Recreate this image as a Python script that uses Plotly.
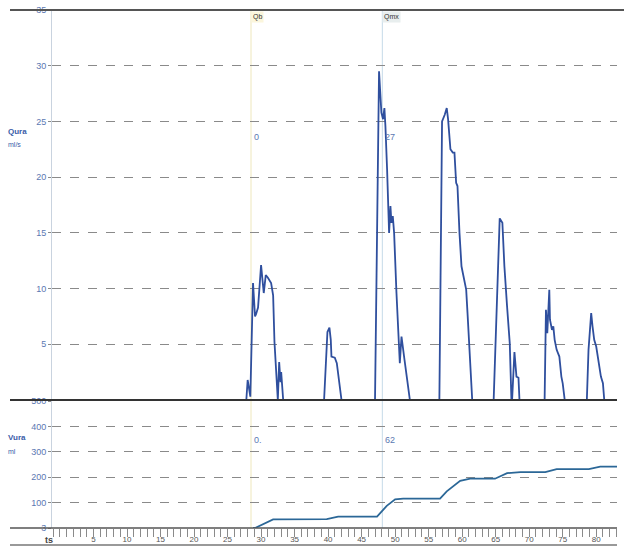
import plotly.graph_objects as go

# ---------------- data ----------------
flow_t = [0, 27.8, 28.0, 28.3, 28.4, 28.8, 29.1, 29.25, 29.55, 30.0, 30.4, 30.7, 31.0, 31.5, 31.8, 32.0, 32.4, 32.5,
          32.7, 32.9, 33.0, 33.3,
          39.4, 39.9, 40.2, 40.4, 40.5, 41.0, 41.3, 41.7, 42.0,
          47.0, 47.6, 47.95, 48.2, 48.4, 48.55, 48.8, 49.1, 49.3, 49.45, 49.65, 49.85, 50.2, 50.7, 50.95, 51.2, 51.4,
          51.8, 51.95, 52.2,
          56.6, 57.0, 57.4, 57.7, 57.9, 58.25, 58.6, 58.85, 59.1, 59.3, 59.6, 59.9, 60.1, 60.3, 60.6, 60.8, 61.5,
          64.7, 65.2, 65.6, 66.0, 66.3, 66.7, 67.1, 67.35, 67.45, 67.8, 68.1, 68.4, 68.55,
          72.3, 72.5, 72.7, 72.8, 73.0, 73.1, 73.4, 73.6, 73.8, 74.1, 74.5, 74.8, 75.0, 75.3,
          78.6, 78.85, 79.0, 79.25, 79.45, 79.7, 80.0, 80.3, 80.7, 81.0, 81.2, 83]
flow_q = [0, 0, 1.8, 0.3, 0.3, 10.5, 7.5, 7.7, 8.3, 12.1, 9.6, 11.2, 11.0, 10.5, 9.4, 5.2, 1.6, 0,
          3.4, 1.6, 2.5, 0,
          0, 6.1, 6.5, 5.4, 3.9, 3.8, 3.3, 1.35, 0,
          0, 29.5, 25.8, 25.2, 26.2, 24.6, 20.7, 15.0, 17.4, 15.9, 16.5, 15.0, 9.6, 3.3, 5.7, 4.2, 3.6,
          1.8, 1.2, 0,
          0, 25.0, 25.6, 26.2, 25.2, 22.5, 22.2, 22.2, 19.5, 19.2, 15.0, 12.0, 11.4, 10.8, 9.9, 7.8, 0,
          0, 10.0, 16.3, 15.9, 12.0, 8.4, 5.1, 0, 0, 4.3, 2.1, 2.0, 0,
          0, 8.1, 6.0, 7.8, 9.9, 7.2, 6.3, 6.6, 5.4, 4.5, 3.9, 2.1, 1.5, 0,
          0, 4.5, 5.7, 7.8, 6.6, 5.4, 4.8, 3.6, 2.1, 1.5, 0, 0]

vol_t = [28.8, 29.1, 31.8, 39.8, 41.5, 47.3, 48.75, 50.0, 51.2, 56.7, 57.7, 59.7, 61.2, 64.9, 66.7, 68.7,
         72.4, 74.1, 78.9, 80.6, 83.5]
vol_v = [0, 0, 34, 35, 45, 45, 87, 113, 116, 116, 144, 186, 194, 194, 216, 220,
         220, 232, 232, 242, 242]

flow_ticks = [5, 10, 15, 20, 25, 30, 35]
vol_ticks = [0, 100, 200, 300, 400, 500]
vol_ticktext = ["3", "100", "200", "300", "400", "500"]
time_ticks = list(range(5, 84, 5))

qb_t = 28.5
qmx_t = 48.1

# ---------------- layout helpers ----------------
W, H = 624, 546
def px(x):
    return x / W
def py(y):
    return 1 - y / H

XR = [-1.19, 83.1]
TICKC = "#5b78b2"
GRID = "#8a8a8a"
FONT = "Liberation Sans"

fig = go.Figure()
fig.add_trace(go.Scatter(x=flow_t, y=flow_q, mode="lines", xaxis="x", yaxis="y",
                         line=dict(color="#2f4f9e", width=1.8), showlegend=False))
fig.add_trace(go.Scatter(x=vol_t, y=vol_v, mode="lines", xaxis="x2", yaxis="y2",
                         line=dict(color="#2b6797", width=1.8), showlegend=False))

fig.update_layout(
    width=W, height=H, margin=dict(l=0, r=0, t=0, b=0),
    paper_bgcolor="white", plot_bgcolor="white",
    font=dict(family=FONT, size=9, color=TICKC),
    xaxis=dict(domain=[px(52), px(617)], range=XR, anchor="y", showticklabels=False,
               showgrid=False, zeroline=False, showline=False, ticks=""),
    yaxis=dict(domain=[py(400), py(10)], range=[0, 35], anchor="x", tickvals=flow_ticks,
               showgrid=True, gridcolor=GRID, griddash="dash", gridwidth=1,
               zeroline=False, showline=True, linecolor="#c9d3df", linewidth=1,
               ticks="outside", ticklen=3, tickcolor=GRID, automargin=False,
               tickfont=dict(family=FONT, size=9, color=TICKC)),
    xaxis2=dict(domain=[px(52), px(617)], range=XR, anchor="y2", tickvals=time_ticks,
                showgrid=False, zeroline=False, showline=False,
                ticks="", automargin=False, ticklabelstandoff=5,
                minor=dict(ticks="outside", ticklen=8, dtick=1, tick0=0, tickcolor="#8a8a8a",
                           tickwidth=1, showgrid=False),
                tickfont=dict(family=FONT, size=8, color="#555555")),
    yaxis2=dict(domain=[py(528), py(401)], range=[0, 500], anchor="x2", tickvals=vol_ticks,
                ticktext=vol_ticktext, showgrid=True, gridcolor=GRID, griddash="dash",
                gridwidth=1, zeroline=False, showline=True, linecolor="#c9d3df", linewidth=1,
                ticks="outside", ticklen=3, tickcolor=GRID, automargin=False,
                tickfont=dict(family=FONT, size=9, color=TICKC)),
)

shapes = []
# Horizontal frame lines
for y, w, c in [(10, 2, "#555555"), (400, 2, "#333333"), (528, 1.5, "#555555"), (545, 1.5, "#777777")]:
    shapes.append(dict(type="line", xref="paper", yref="paper", x0=px(10), x1=px(624) if y == 10 else px(617),
                       y0=py(y), y1=py(y), line=dict(color=c, width=w)))
# Qb / Qmx markers spanning both panels
for t, c in [(qb_t, "#f1ebc8"), (qmx_t, "#cfe0ec")]:
    shapes.append(dict(type="line", xref="x", yref="paper", x0=t, x1=t, y0=py(528), y1=py(11),
                       line=dict(color=c, width=1.2), layer="below"))
fig.update_layout(shapes=shapes)

ann = []
ann.append(dict(x=qb_t, y=py(17), xref="x", yref="paper", text="Qb", showarrow=False, xanchor="left",
                yanchor="middle", font=dict(size=7, color="#333333"), bgcolor="#fbf6dc"))
ann.append(dict(x=qmx_t, y=py(17), xref="x", yref="paper", text="Qmx", showarrow=False, xanchor="left",
                yanchor="middle", font=dict(size=7, color="#333333"), bgcolor="#e8eeee"))
for t, y, txt in [(qb_t, 137, "0"), (qmx_t, 137, "27"), (qb_t, 440, "0."), (qmx_t, 440, "62")]:
    ann.append(dict(x=t, y=py(y), xref="x", yref="paper", text=txt, showarrow=False, xanchor="left",
                    yanchor="middle", xshift=1, font=dict(size=9, color=TICKC)))
for y, txt, sz in [(131, "<b>Qura</b>", 8), (145, "ml/s", 7),
                   (437, "<b>Vura</b>", 8), (452, "ml", 7)]:
    ann.append(dict(x=px(6), y=py(y), xref="paper", yref="paper", text=txt, showarrow=False,
                    xanchor="left", yanchor="middle", font=dict(size=sz, color="#3a5ca8")))
ann.append(dict(x=px(43), y=py(540), xref="paper", yref="paper", text="<b>ts</b>", showarrow=False,
                xanchor="left", yanchor="middle", font=dict(size=9, color="#444444")))
fig.update_layout(annotations=ann)

fig.write_html("out.html", config={"displayModeBar": False},
               post_script="document.body.style.margin='0px';document.body.style.padding='0px';")
